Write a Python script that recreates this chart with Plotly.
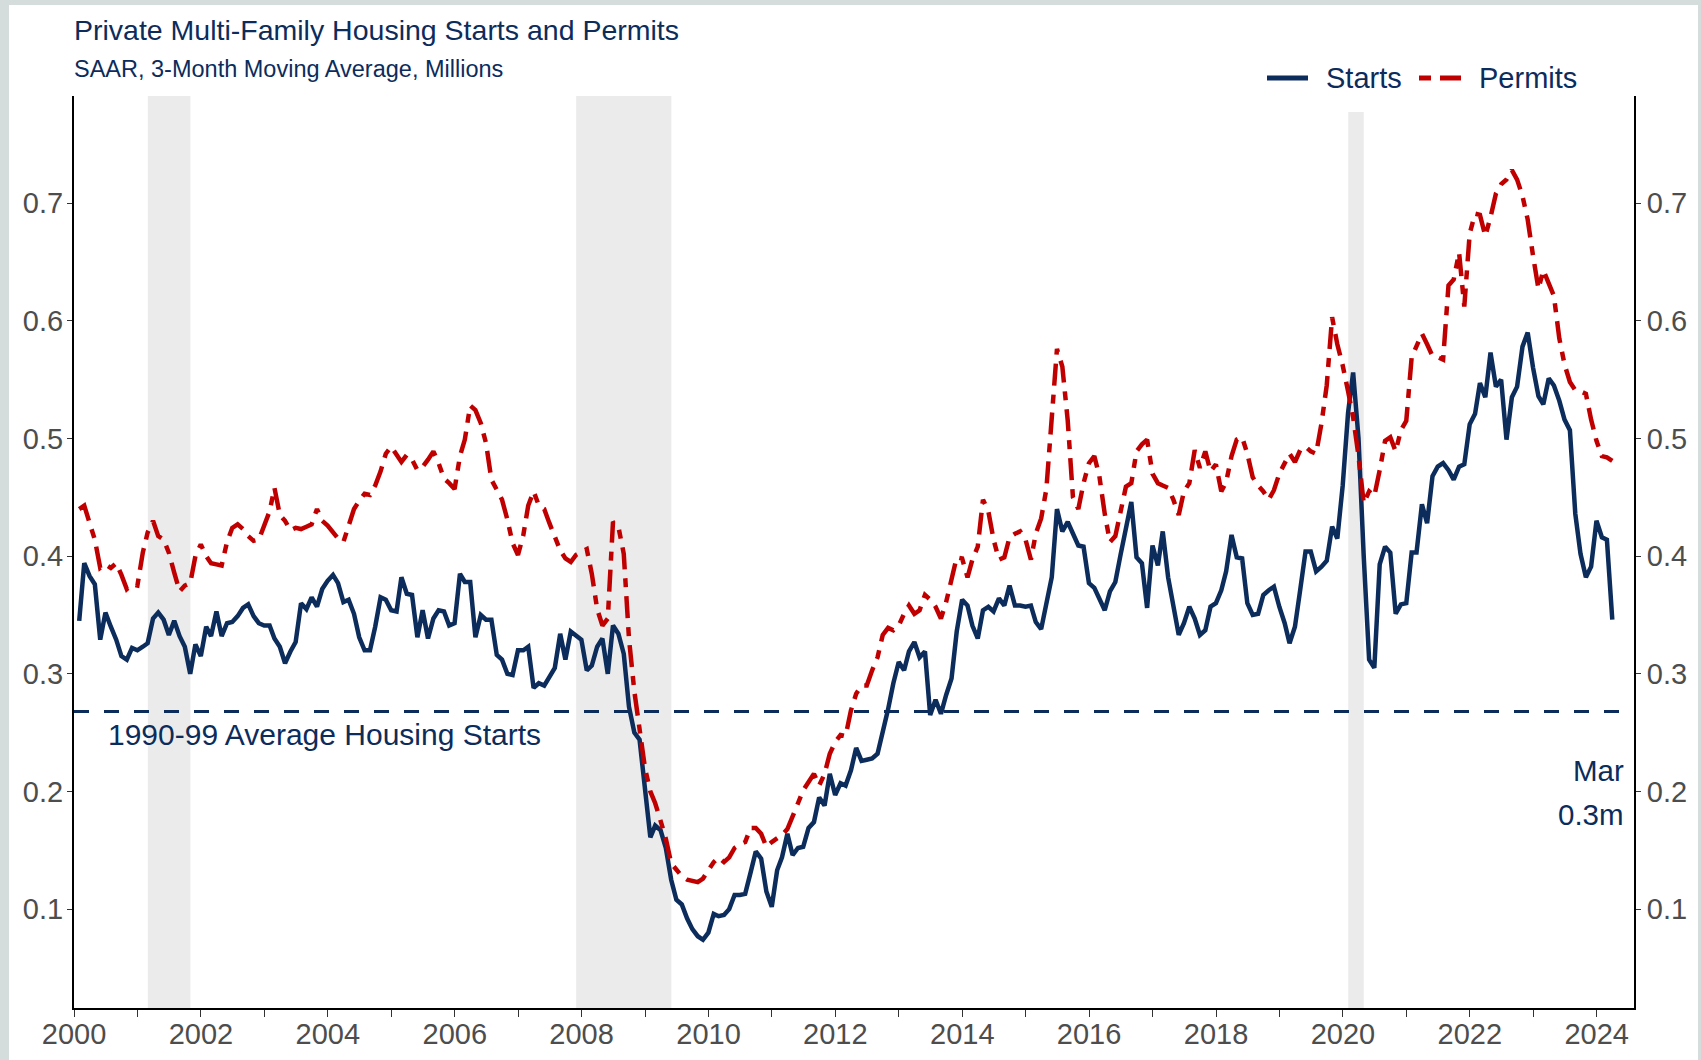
import pandas as pd
import plotly.graph_objects as go

# monthly values, Jan 2000 - Mar 2024 (3-month moving average, millions, SAAR)
starts = [
    0.345, 0.394, 0.383, 0.376, 0.329, 0.352, 0.340, 0.329, 0.315, 0.312, 0.322, 0.320,  # 2000
    0.323, 0.326, 0.347, 0.352, 0.346, 0.333, 0.345, 0.332, 0.323, 0.300, 0.325, 0.315,  # 2001
    0.340, 0.332, 0.353, 0.332, 0.343, 0.344, 0.349, 0.356, 0.359, 0.349, 0.343, 0.341,  # 2002
    0.341, 0.330, 0.323, 0.309, 0.319, 0.327, 0.360, 0.355, 0.365, 0.357, 0.372, 0.379,  # 2003
    0.384, 0.377, 0.361, 0.363, 0.351, 0.331, 0.320, 0.320, 0.340, 0.365, 0.363, 0.354,  # 2004
    0.353, 0.382, 0.368, 0.367, 0.331, 0.354, 0.330, 0.347, 0.354, 0.353, 0.341, 0.343,  # 2005
    0.385, 0.378, 0.378, 0.331, 0.350, 0.346, 0.346, 0.316, 0.312, 0.300, 0.299, 0.320,  # 2006
    0.320, 0.323, 0.288, 0.292, 0.290, 0.297, 0.305, 0.334, 0.312, 0.336, 0.333, 0.329,  # 2007
    0.303, 0.307, 0.323, 0.330, 0.300, 0.341, 0.334, 0.317, 0.272, 0.250, 0.244, 0.200,  # 2008
    0.161, 0.171, 0.167, 0.152, 0.125, 0.108, 0.104, 0.092, 0.083, 0.077, 0.074, 0.080,  # 2009
    0.096, 0.094, 0.095, 0.100, 0.112, 0.112, 0.113, 0.131, 0.149, 0.143, 0.115, 0.102,  # 2010
    0.133, 0.144, 0.164, 0.146, 0.152, 0.153, 0.169, 0.174, 0.195, 0.188, 0.215, 0.197,  # 2011
    0.207, 0.205, 0.218, 0.237, 0.226, 0.227, 0.228, 0.232, 0.250, 0.270, 0.292, 0.310,  # 2012
    0.303, 0.319, 0.327, 0.314, 0.319, 0.265, 0.278, 0.266, 0.282, 0.296, 0.336, 0.363,  # 2013
    0.358, 0.341, 0.330, 0.354, 0.357, 0.353, 0.364, 0.358, 0.375, 0.358, 0.358, 0.357,  # 2014
    0.358, 0.344, 0.338, 0.360, 0.382, 0.440, 0.421, 0.429, 0.419, 0.409, 0.408, 0.377,  # 2015
    0.373, 0.363, 0.354, 0.370, 0.378, 0.401, 0.425, 0.446, 0.399, 0.394, 0.356, 0.409,  # 2016
    0.392, 0.421, 0.382, 0.357, 0.333, 0.343, 0.357, 0.347, 0.333, 0.337, 0.357, 0.360,  # 2017
    0.371, 0.387, 0.418, 0.399, 0.398, 0.360, 0.350, 0.351, 0.367, 0.371, 0.374, 0.357,  # 2018
    0.343, 0.326, 0.340, 0.371, 0.404, 0.404, 0.387, 0.391, 0.396, 0.425, 0.415, 0.460,  # 2019
    0.522, 0.556, 0.500, 0.400, 0.312, 0.305, 0.393, 0.408, 0.403, 0.351, 0.359, 0.360,  # 2020
    0.403, 0.403, 0.444, 0.428, 0.468, 0.476, 0.479, 0.473, 0.465, 0.476, 0.478, 0.512,  # 2021
    0.521, 0.547, 0.535, 0.573, 0.544, 0.550, 0.499, 0.535, 0.544, 0.578, 0.590, 0.560,  # 2022
    0.536, 0.529, 0.551, 0.545, 0.532, 0.516, 0.507, 0.436, 0.402, 0.382, 0.391, 0.430,  # 2023
    0.416, 0.414, 0.346,                                                                 # 2024
]

permits = [
    0.440, 0.443, 0.428, 0.414, 0.390, 0.393, 0.390, 0.394, 0.384, 0.372, 0.376, 0.375,  # 2000
    0.403, 0.420, 0.430, 0.417, 0.414, 0.403, 0.386, 0.370, 0.375, 0.377, 0.400, 0.410,  # 2001
    0.400, 0.394, 0.393, 0.392, 0.412, 0.424, 0.427, 0.423, 0.417, 0.413, 0.414, 0.426,  # 2002
    0.438, 0.458, 0.435, 0.430, 0.422, 0.424, 0.423, 0.425, 0.427, 0.440, 0.430, 0.426,  # 2003
    0.420, 0.415, 0.412, 0.425, 0.440, 0.447, 0.453, 0.452, 0.460, 0.472, 0.487, 0.493,  # 2004
    0.486, 0.480, 0.486, 0.482, 0.473, 0.476, 0.482, 0.489, 0.479, 0.466, 0.462, 0.457,  # 2005
    0.485, 0.499, 0.528, 0.524, 0.513, 0.496, 0.465, 0.457, 0.448, 0.431, 0.411, 0.401,  # 2006
    0.418, 0.443, 0.455, 0.443, 0.440, 0.428, 0.416, 0.405, 0.398, 0.395, 0.401, 0.404,  # 2007
    0.406, 0.385, 0.355, 0.341, 0.347, 0.429, 0.425, 0.402, 0.330, 0.285, 0.255, 0.220,  # 2008
    0.200, 0.190, 0.175, 0.160, 0.139, 0.133, 0.128, 0.125, 0.124, 0.123, 0.126, 0.133,  # 2009
    0.140, 0.144, 0.140, 0.144, 0.152, 0.155, 0.157, 0.169, 0.169, 0.164, 0.153, 0.157,  # 2010
    0.160, 0.163, 0.168, 0.178, 0.190, 0.201, 0.208, 0.215, 0.205, 0.215, 0.232, 0.242,  # 2011
    0.248, 0.247, 0.269, 0.283, 0.290, 0.290, 0.303, 0.314, 0.333, 0.339, 0.337, 0.341,  # 2012
    0.351, 0.358, 0.351, 0.354, 0.367, 0.363, 0.357, 0.347, 0.361, 0.381, 0.399, 0.398,  # 2013
    0.382, 0.397, 0.408, 0.448, 0.438, 0.414, 0.397, 0.399, 0.416, 0.419, 0.421, 0.414,  # 2014
    0.397, 0.419, 0.432, 0.457, 0.520, 0.576, 0.561, 0.515, 0.450, 0.440, 0.462, 0.479,  # 2015
    0.485, 0.468, 0.436, 0.412, 0.417, 0.438, 0.459, 0.462, 0.489, 0.495, 0.499, 0.470,  # 2016
    0.462, 0.460, 0.458, 0.448, 0.435, 0.455, 0.462, 0.490, 0.475, 0.489, 0.472, 0.478,  # 2017
    0.455, 0.463, 0.485, 0.499, 0.501, 0.487, 0.467, 0.460, 0.455, 0.448, 0.456, 0.470,  # 2018
    0.479, 0.487, 0.480, 0.490, 0.493, 0.489, 0.487, 0.513, 0.545, 0.603, 0.580, 0.562,  # 2019
    0.540, 0.518, 0.485, 0.445, 0.455, 0.451, 0.473, 0.498, 0.501, 0.489, 0.507, 0.515,  # 2020
    0.569, 0.578, 0.589, 0.580, 0.570, 0.569, 0.567, 0.630, 0.635, 0.658, 0.612, 0.674,  # 2021
    0.691, 0.690, 0.672, 0.688, 0.708, 0.716, 0.720, 0.728, 0.720, 0.706, 0.686, 0.655,  # 2022
    0.627, 0.643, 0.631, 0.621, 0.585, 0.563, 0.548, 0.541, 0.540, 0.538, 0.516, 0.498,  # 2023
    0.485, 0.484, 0.481,                                                                 # 2024
]

avg_1990s = 0.268
recessions = [("2001-03-01", "2001-11-01"), ("2007-12-01", "2009-06-01"), ("2020-02-01", "2020-04-30")]
last_label = ["Mar", "0.3m"]

dates = pd.date_range("2000-02-01", periods=len(starts), freq="MS") - pd.Timedelta(days=1)

NAVY = "#0c2c5c"
RED = "#c00000"
GREY_TXT = "#4d4d4d"
FONT = "Liberation Sans, Arial, sans-serif"
PERMIT_DASH = "22px,9px,9px,9px"

# page geometry (px)
WIDTH, HEIGHT = 1701, 1060
L, R, T, B = 74, 67, 96, 52
PW, PH = WIDTH - L - R, HEIGHT - T - B


def px_x(x):
    return (x - L) / PW


def px_y(y):
    return (HEIGHT - B - y) / PH


fig = go.Figure()
fig.add_trace(go.Scatter(x=dates, y=starts, name="Starts", mode="lines",
                         line=dict(color=NAVY, width=4.5)))
fig.add_trace(go.Scatter(x=dates, y=permits, name="Permits", mode="lines",
                         line=dict(color=RED, width=4.5, dash=PERMIT_DASH)))
# dummy trace so the right-hand axis is drawn
fig.add_trace(go.Scatter(x=[dates[0]], y=[None], yaxis="y2", showlegend=False,
                         hoverinfo="skip"))

shapes = []
# light grey frame around the page
for x0, x1, y0, y1 in [(0, 9, 0, HEIGHT), (0, WIDTH, 0, 5), (WIDTH - 3, WIDTH, 0, HEIGHT)]:
    shapes.append(dict(type="rect", xref="paper", yref="paper",
                       x0=px_x(x0), x1=px_x(x1), y0=px_y(y1), y1=px_y(y0),
                       fillcolor="#d5dcdc", line_width=0, layer="below"))
for i, (s, e) in enumerate(recessions):
    top = px_y(112) if i == 2 else 1
    shapes.append(dict(type="rect", xref="x", yref="paper", x0=s, x1=e, y0=0, y1=top,
                       fillcolor="#ebebeb", line_width=0, layer="below"))
shapes.append(dict(type="line", xref="paper", yref="y", x0=0, x1=1, y0=avg_1990s, y1=avg_1990s,
                   line=dict(color=NAVY, width=3, dash="15px,15px")))

# hand-built legend (line samples + labels)
legend_items = [("Starts", NAVY, "solid", 1267, 1308, 1326),
                ("Permits", RED, "12px,9px,21px,9px", 1419, 1461, 1479)]
annotations = []
for name, col, dash, lx0, lx1, tx in legend_items:
    shapes.append(dict(type="line", xref="paper", yref="paper",
                       x0=px_x(lx0), x1=px_x(lx1), y0=px_y(78), y1=px_y(78),
                       line=dict(color=col, width=5, dash=dash)))
    annotations.append(dict(text=name, x=px_x(tx), y=px_y(78), xanchor="left",
                            yanchor="middle", xshift=-2, font=dict(size=29, color=NAVY)))

annotations += [
    dict(text="Private Multi-Family Housing Starts and Permits", x=px_x(74), y=px_y(30),
         xanchor="left", yanchor="middle", xshift=-2, font=dict(size=28.5, color=NAVY)),
    dict(text="SAAR, 3-Month Moving Average, Millions", x=px_x(74), y=px_y(69),
         xanchor="left", yanchor="middle", xshift=-2, font=dict(size=23.5, color=NAVY)),
    dict(text="1990-99 Average Housing Starts", x=px_x(108), y=px_y(734),
         xanchor="left", yanchor="middle", xshift=-2, font=dict(size=30, color=NAVY)),
    dict(text=last_label[0], x=px_x(1624), y=px_y(770),
         xanchor="right", yanchor="middle", xshift=2, font=dict(size=29.5, color=NAVY)),
    dict(text=last_label[1], x=px_x(1624), y=px_y(814),
         xanchor="right", yanchor="middle", xshift=2, font=dict(size=29.5, color=NAVY)),
]
for a in annotations:
    a.update(xref="paper", yref="paper", showarrow=False)

yax = dict(range=[0.016, 0.791], tick0=0, dtick=0.1, tickformat=".1f", automargin=False,
           showgrid=False, zeroline=False, showline=True, linecolor="black", linewidth=2,
           ticks="outside", ticklen=5, tickcolor="#333333",
           tickfont=dict(size=29, color=GREY_TXT))

fig.update_layout(
    width=WIDTH, height=HEIGHT,
    margin=dict(l=L, r=R, t=T, b=B, autoexpand=False),
    paper_bgcolor="white", plot_bgcolor="rgba(0,0,0,0)",
    font=dict(family=FONT, color=NAVY),
    showlegend=False,
    xaxis=dict(type="date", range=["2000-01-01", "2024-08-03"], automargin=False,
               tick0="2000-01-01", dtick="M24", tickformat="%Y",
               showgrid=False, zeroline=False, showline=True, linecolor="black", linewidth=2,
               ticks="outside", ticklen=7, tickcolor="#333333", ticklabelstandoff=-8,
               tickfont=dict(size=29, color=GREY_TXT),
               minor=dict(dtick="M12", ticks="outside", ticklen=7, tickcolor="#333333",
                          showgrid=False)),
    yaxis=dict(yax, ticklabelstandoff=-2),
    yaxis2=dict(yax, overlaying="y", side="right"),
    shapes=shapes,
    annotations=annotations,
)

# drop the browser's default 8px body margin so the figure sits at the page corner
fig.write_html("out.html", config={"displayModeBar": False},
               post_script="document.body.style.margin='0px';")
